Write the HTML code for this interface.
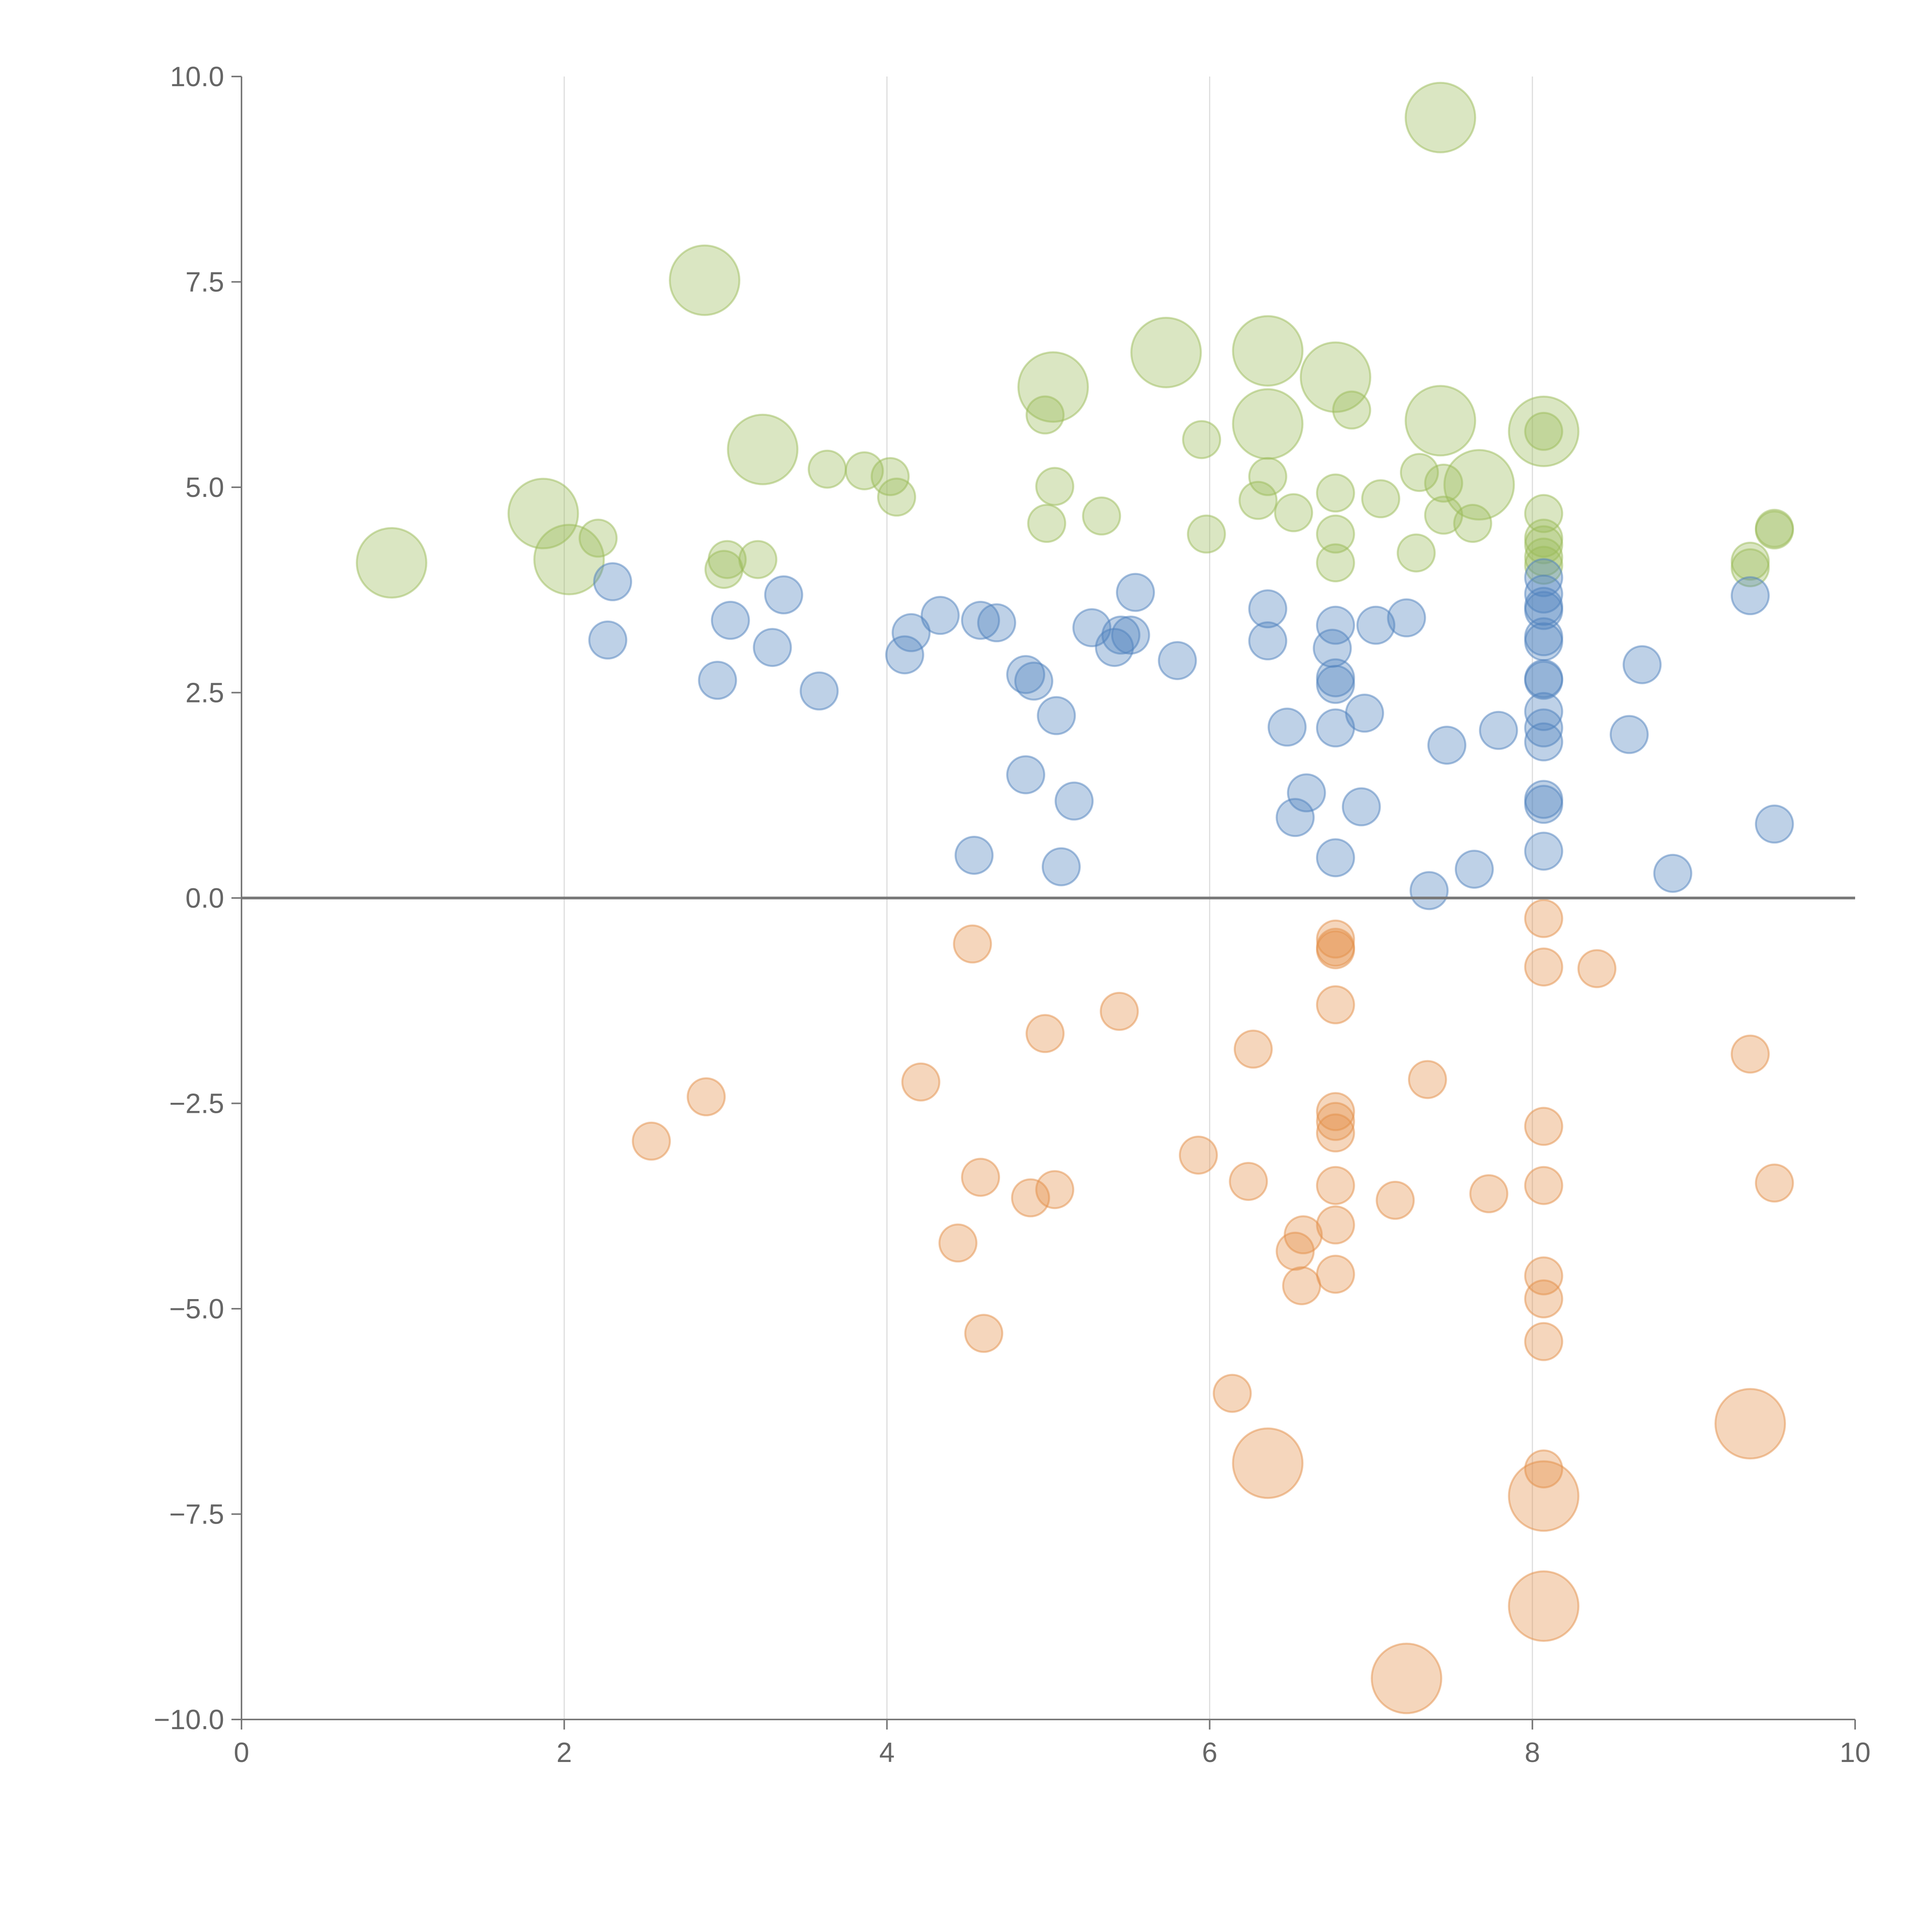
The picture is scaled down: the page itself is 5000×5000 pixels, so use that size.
<!DOCTYPE html>
<html><head><meta charset="utf-8">
<style>
html,body{margin:0;padding:0;background:#fff;}
svg{display:block;}
text{font-family:"Liberation Sans",sans-serif;fill:#666;}
</style></head>
<body>
<svg id="chart" width="5000" height="5000" viewBox="0 0 5000 5000" xmlns="http://www.w3.org/2000/svg"></svg>
<script>
const xTicks=[0,2,4,6,8,10];
const yTicks=[10,7.5,5,2.5,0,-2.5,-5,-7.5,-10];
const yTickLabels=["10.0","7.5","5.0","2.5","0.0","\u22122.5","\u22125.0","\u22127.5","\u221210.0"];
const greenX=[0.93,1.87,2.03,2.21,2.87,2.99,3.01,3.2,3.23,3.63,3.86,4.02,4.06,4.98,5.03,5.04,4.99,5.33,5.73,5.95,5.98,6.3,6.36,6.36,6.36,6.52,6.78,6.78,6.78,6.78,6.88,7.06,7.28,7.3,7.43,7.43,7.45,7.45,7.63,7.67,8.07,8.07,8.07,8.07,8.07,8.07,8.07,9.35,9.35,9.5,9.5];
const greenY=[4.08,4.68,4.12,4.38,7.52,4.0,4.12,4.12,5.46,5.22,5.2,5.13,4.88,5.88,6.22,5.01,4.56,4.65,6.64,5.58,4.43,4.84,5.13,6.66,5.77,4.69,4.93,4.43,4.08,6.34,5.94,4.86,4.2,5.18,9.5,5.81,5.05,4.66,4.56,5.03,5.68,5.68,4.68,4.38,4.3,4.15,4.05,4.1,4.02,4.5,4.48];
const greenBig=[1,1,1,0,1,0,0,0,1,0,0,0,0,0,1,0,0,0,1,0,0,0,0,1,1,0,0,0,0,1,0,0,0,0,1,1,0,0,0,1,1,0,0,0,0,0,0,0,0,0,0];
const blueX=[2.3,2.27,2.95,3.03,3.29,3.36,3.58,4.11,4.15,4.33,4.58,4.68,4.86,4.91,5.05,4.86,5.16,4.54,5.08,5.27,5.41,5.45,5.51,5.54,5.8,6.36,6.36,6.48,6.6,6.53,6.78,6.76,6.78,6.78,6.78,6.78,6.94,6.96,7.03,7.22,7.36,7.47,7.64,7.79,8.07,8.07,8.07,8.07,8.07,8.07,8.07,8.07,8.07,8.07,8.07,8.07,8.07,8.07,8.6,8.68,8.87,9.35,9.5];
const blueY=[3.85,3.14,2.65,3.38,3.05,3.69,2.52,2.96,3.23,3.44,3.38,3.35,2.72,2.64,2.22,1.5,1.18,0.52,0.38,3.29,3.05,3.2,3.2,3.72,2.89,3.52,3.13,2.08,1.28,0.98,3.32,3.04,2.68,2.6,2.07,0.49,1.11,2.25,3.32,3.41,0.09,1.86,0.35,2.04,3.55,3.9,3.7,3.5,3.18,3.12,2.67,2.65,2.27,2.07,1.9,1.2,1.14,0.57,1.99,2.84,0.3,3.68,0.9];
const orangeX=[2.54,2.88,4.21,4.44,4.53,4.58,4.6,4.89,4.98,5.04,5.44,5.93,6.14,6.24,6.27,6.36,6.53,6.57,6.58,6.78,6.78,6.78,6.78,6.78,6.78,6.78,6.78,6.78,6.78,7.15,7.22,7.35,7.73,8.07,8.07,8.07,8.07,8.07,8.07,8.07,8.07,8.07,8.07,8.4,9.35,9.35,9.5];
const orangeY=[-2.96,-2.42,-2.24,-4.2,-0.56,-3.4,-5.3,-3.65,-1.65,-3.55,-1.38,-3.13,-6.03,-3.45,-1.84,-6.88,-4.3,-4.72,-4.1,-0.5,-0.6,-0.63,-1.3,-2.6,-2.72,-2.86,-3.5,-3.98,-4.58,-3.68,-9.5,-2.21,-3.6,-0.25,-0.84,-2.78,-3.5,-4.6,-4.88,-5.4,-6.95,-7.28,-8.62,-0.86,-1.9,-6.4,-3.47];
const orangeBig=[0,0,0,0,0,0,0,0,0,0,0,0,0,0,0,1,0,0,0,0,0,0,0,0,0,0,0,0,0,0,1,0,0,0,0,0,0,0,0,0,0,1,1,0,0,1,0];

const X0=625,X1=4801,Y0=4450,Y1=198;
const sx=v=>X0+(v-0)/(10-0)*(X1-X0);
const sy=v=>Y0-(v+10)/20*(Y0-Y1);
const svg=document.getElementById('chart');
const NS='http://www.w3.org/2000/svg';
function mk(tag,attrs){const e=document.createElementNS(NS,tag);for(const k in attrs)e.setAttribute(k,attrs[k]);svg.appendChild(e);return e;}

xTicks.forEach(t=>{ if(t>0&&t<10){
  const g=mk('line',{x1:sx(t),x2:sx(t),y1:Y1,y2:Y0,stroke:'#dddddd','stroke-width':3});
  
  
}});
function series(xs,ys,big,fill,stroke,name){
  xs.forEach((x,i)=>{
    const r=(big&&big[i])?90:48;
    const c=mk('circle',{cx:sx(x),cy:sy(ys[i]),r:r,fill:fill,'fill-opacity':0.37,stroke:stroke,'stroke-opacity':0.5,'stroke-width':5});
    
    
  });
}
series(greenX,greenY,greenBig,'#9bbb59','#9bbb59','green-bubble');
series(blueX,blueY,null,'#4f81bd','#4f81bd','blue-bubble');
series(orangeX,orangeY,orangeBig,'#e3904a','#e3904a','orange-bubble');

const z=mk('line',{x1:X0,x2:X1,y1:sy(0),y2:sy(0),stroke:'#777','stroke-width':7});


const ax=mk('line',{x1:X0,x2:X1,y1:Y0,y2:Y0,stroke:'#777','stroke-width':4});


const ay=mk('line',{x1:X0,x2:X0,y1:Y1,y2:Y0,stroke:'#777','stroke-width':4});


xTicks.forEach(t=>{
  const l=mk('line',{x1:sx(t),x2:sx(t),y1:Y0,y2:Y0+26,stroke:'#777','stroke-width':4});
  
  
  const tx=mk('text',{x:sx(t),y:Y0+110,'text-anchor':'middle','font-size':72});
  tx.textContent=String(t);
  
  
});
yTicks.forEach((t,i)=>{
  const l=mk('line',{x1:X0-26,x2:X0,y1:sy(t),y2:sy(t),stroke:'#777','stroke-width':4});
  
  
  const tx=mk('text',{x:X0-45,y:sy(t)+25,'text-anchor':'end','font-size':72});
  tx.textContent=yTickLabels[i];
  
  
});
</script>
</body></html>
